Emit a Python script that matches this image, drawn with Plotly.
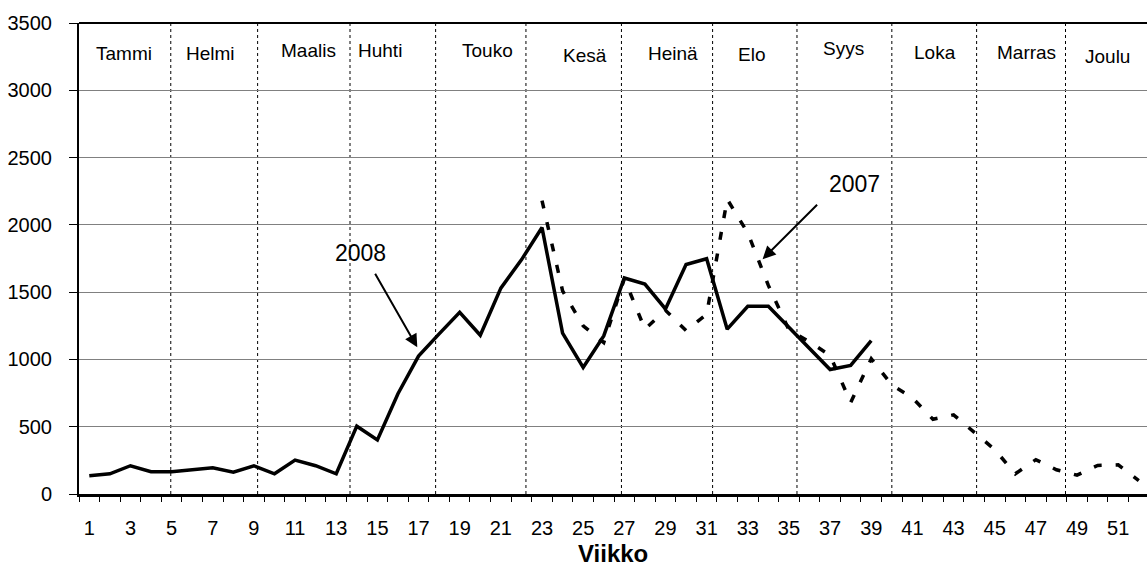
import plotly.graph_objects as go

# ---------------- data ----------------
weeks_2008 = list(range(1, 40))
values_2008 = [135, 150, 210, 165, 165, 180, 195, 162, 210, 150,
               252, 210, 150, 504, 402, 745, 1025, 1190, 1350, 1180,
               1530, 1740, 1980, 1195, 940, 1175, 1605, 1560, 1375, 1705,
               1748, 1225, 1395, 1395, 1240, 1085, 925, 955, 1140]

weeks_2007 = list(range(23, 53))
values_2007 = [2180, 1510, 1250, 1125, 1600, 1225, 1365, 1215, 1335, 2190,
               1940, 1550, 1220, 1130, 1030, 680, 1005, 810, 715, 555,
               588, 455, 330, 150, 255, 180, 140, 212, 217, 100]

tick_weeks = list(range(1, 52, 2))
tick_labels = [str(w) for w in tick_weeks]

months = ["Tammi", "Helmi", "Maalis", "Huhti", "Touko", "Kesä",
          "Heinä", "Elo", "Syys", "Loka", "Marras", "Joulu"]
# month boundaries expressed in week units
month_bounds = [4.96, 9.18, 13.67, 17.83, 22.22, 26.86, 31.29, 35.39, 40.0, 44.12, 48.44]

x_title = "Viikko"

# ---------------- layout helpers (positions) ----------------
month_label_x = [2.70, 6.91, 11.63, 15.13, 20.37, 25.09, 29.37, 33.2, 37.67, 42.09, 46.52, 50.46]
month_label_y = [3273, 3271, 3296, 3296, 3296, 3259, 3276, 3264, 3311, 3279, 3279, 3251]

FONT = "Liberation Sans, Arial, sans-serif"

fig = go.Figure()
fig.add_trace(go.Scatter(x=weeks_2007, y=values_2007, mode="lines", name="2007",
                         line=dict(color="black", width=3.5, dash="8px,14px")))
fig.add_trace(go.Scatter(x=weeks_2008, y=values_2008, mode="lines", name="2008",
                         line=dict(color="black", width=3.5)))

shapes = []
for b in month_bounds:
    shapes.append(dict(type="line", xref="x", yref="paper", x0=b, x1=b, y0=0, y1=1.003,
                       line=dict(color="black", width=1, dash="dot"), layer="between"))
shapes.append(dict(type="line", xref="paper", yref="paper", x0=0, x1=1, y0=1, y1=1,
                   line=dict(color="black", width=2), layer="above"))

annotations = []
for name, mx, my in zip(months, month_label_x, month_label_y):
    annotations.append(dict(x=mx, y=my, xref="x", yref="y", text=name, showarrow=False,
                            font=dict(size=19, color="black", family=FONT),
                            xanchor="center", yanchor="middle"))

# year labels with arrows
annotations.append(dict(x=14.18, y=1794, xref="x", yref="y", text="2008", showarrow=False,
                        font=dict(size=23, color="black", family=FONT)))
annotations.append(dict(x=16.94, y=1090, xref="x", yref="y", text="", showarrow=True,
                        ax=-43, ay=-75, arrowhead=2, arrowsize=1.3, arrowwidth=2,
                        arrowcolor="black"))
annotations.append(dict(x=38.19, y=2304, xref="x", yref="y", text="2007", showarrow=False,
                        font=dict(size=23, color="black", family=FONT)))
annotations.append(dict(x=33.72, y=1745, xref="x", yref="y", text="", showarrow=True,
                        ax=56, ay=-56, arrowhead=2, arrowsize=1.3, arrowwidth=2,
                        arrowcolor="black"))
annotations.append(dict(x=0.5, y=-0.126, xref="paper", yref="paper", text="<b>" + x_title + "</b>",
                        showarrow=False, font=dict(size=24, color="black", family=FONT),
                        xanchor="center", yanchor="middle"))

fig.update_layout(
    width=1147, height=568,
    margin=dict(l=79, r=0, t=23, b=74, autoexpand=False),
    paper_bgcolor="white", plot_bgcolor="white",
    showlegend=False,
    font=dict(family=FONT, color="black"),
    shapes=shapes, annotations=annotations,
    xaxis=dict(range=[0.5, 52.4], tickmode="array", tickvals=tick_weeks, ticktext=tick_labels,
               showgrid=False, zeroline=False, showline=True, linecolor="black", linewidth=2.5,
               ticks="", tickfont=dict(size=20, color="black", family=FONT),
               ticklabelstandoff=14, automargin=False,
               minor=dict(tick0=0.5, dtick=1, ticks="outside", ticklen=5, tickwidth=1,
                          tickcolor="black", showgrid=False)),
    yaxis=dict(range=[0, 3500], dtick=500, showgrid=True, gridcolor="#808080", gridwidth=1,
               zeroline=False, showline=True, linecolor="black", linewidth=2,
               ticks="outside", ticklen=8, tickwidth=1, tickcolor="black",
               tickfont=dict(size=20, color="black", family=FONT),
               ticklabelstandoff=13, automargin=False),
)

fig.write_html("out.html", config={"displayModeBar": False},
               post_script="document.body.style.margin='0';document.body.style.overflow='hidden';")
